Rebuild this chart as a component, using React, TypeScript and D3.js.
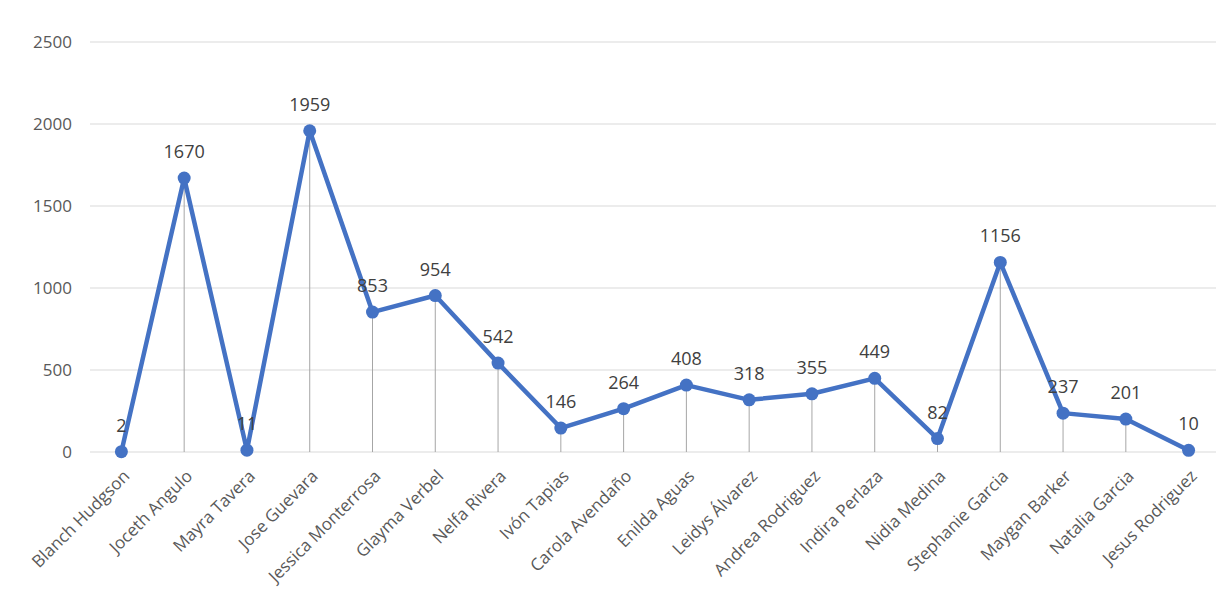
import React from 'react';
import * as d3 from 'd3';

const names = [
  'Blanch Hudgson',
  'Joceth Angulo',
  'Mayra Tavera',
  'Jose Guevara',
  'Jessica Monterrosa',
  'Glayma Verbel',
  'Nelfa Rivera',
  'Ivón Tapias',
  'Carola Avendaño',
  'Enilda Aguas',
  'Leidys Álvarez',
  'Andrea Rodriguez',
  'Indira Perlaza',
  'Nidia Medina',
  'Stephanie Garcia',
  'Maygan Barker',
  'Natalia Garcia',
  'Jesus Rodriguez'
];

const counts = [2, 1670, 11, 1959, 853, 954, 542, 146, 264, 408, 318, 355, 449, 82, 1156, 237, 201, 10];

const yTicks = [0, 500, 1000, 1500, 2000, 2500];

const width = 1220;
const height = 596;
const margin = { top: 42, right: 0, bottom: 144, left: 90 };
const blue = '#4472C4';
const font = 'Open Sans, Noto Sans, sans-serif';

export default function App() {
  const innerW = width - margin.left - margin.right;
  const innerH = height - margin.top - margin.bottom;

  const x = d3.scaleBand().domain(names).range([0, innerW]).padding(0);
  const y = d3.scaleLinear().domain([0, 2500]).range([innerH, 0]);
  const cx = (n: string) => x(n)! + x.bandwidth() / 2;

  const line = d3
    .line<number>()
    .x((d, i) => cx(names[i]))
    .y(d => y(d));

  return (
    <svg width={width} height={height} style={{ position: 'absolute', left: 0, top: 0, background: '#fff' }}>
      <g transform={`translate(${margin.left}, ${margin.top})`}>
        {yTicks.map(t => (
          <g key={t}>
            <line x1={0} x2={innerW - 4} y1={y(t)} y2={y(t)} stroke="#d9d9d9" strokeWidth={1} />
            <text x={-18} y={y(t)} dy="0.35em" textAnchor="end" fontSize={17} fill="#595959" fontFamily={font}>
              {t}
            </text>
          </g>
        ))}

        {counts.map((v, i) => (
          <line
            key={'d' + i}
            x1={cx(names[i])}
            x2={cx(names[i])}
            y1={y(v)}
            y2={innerH}
            stroke="#a6a6a6"
            strokeWidth={1}
          />
        ))}

        <path d={line(counts)!} fill="none" stroke={blue} strokeWidth={4.5} strokeLinejoin="round" />

        {counts.map((v, i) => (
          <circle key={'c' + i} cx={cx(names[i])} cy={y(v)} r={6.5} fill={blue} />
        ))}

        {counts.map((v, i) => (
          <text
            key={'l' + i}
            x={cx(names[i])}
            y={y(v) - 20}
            textAnchor="middle"
            fontSize={18}
            fill="#404040"
            fontFamily={font}
          >
            {v}
          </text>
        ))}

        {names.map(n => (
          <text
            key={n}
            transform={`translate(${cx(n) + 5}, ${innerH + 21}) rotate(-45)`}
            textAnchor="end"
            dy="0.35em"
            fontSize={17}
            fill="#595959"
            fontFamily={font}
          >
            {n}
          </text>
        ))}
      </g>
    </svg>
  );
}
